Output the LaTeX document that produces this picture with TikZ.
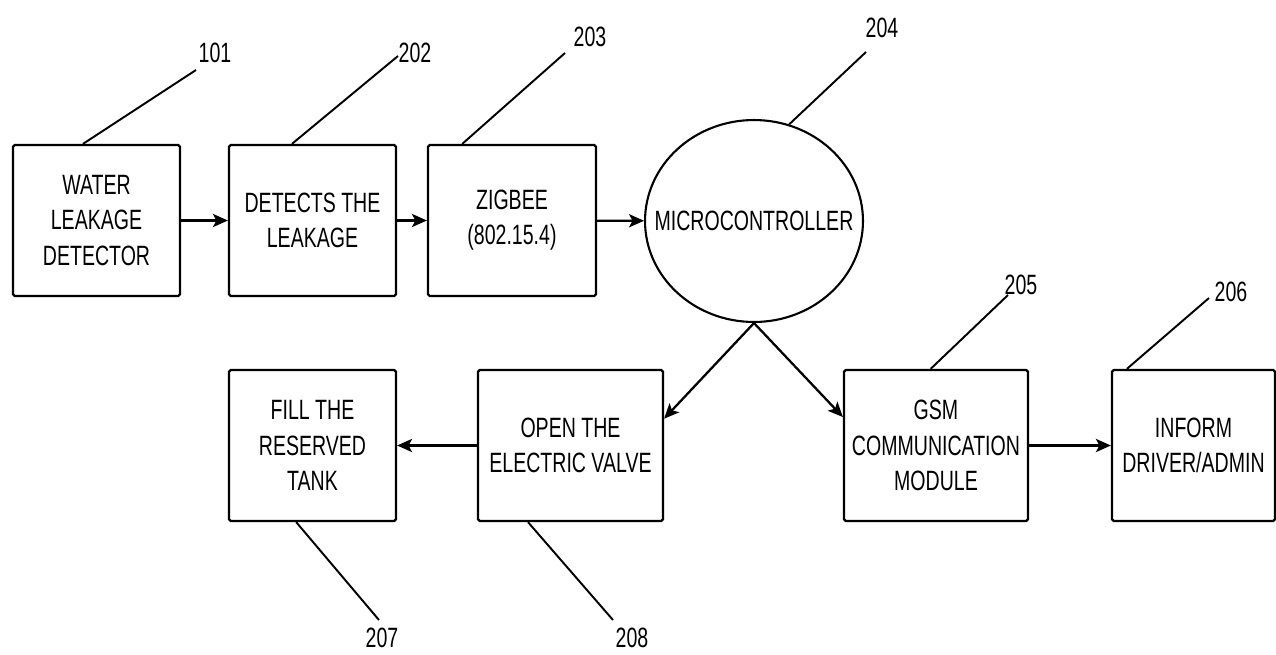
\documentclass[tikz,border=0pt]{standalone}
\usepackage{fontspec}
\setmainfont{Liberation Sans}[FakeStretch=0.70]
\usetikzlibrary{arrows.meta,shapes.geometric}
\begin{document}
\begin{tikzpicture}[x=0.02cm,y=-0.02cm,
  txt/.style={font=\fontsize{15.9}{20}\selectfont},
  box/.style={txt, draw, line width=1.3pt, rounded corners=1pt, minimum height=3.02cm, align=center, inner sep=0pt},
  ell/.style={txt, draw, ellipse, line width=1.2pt, minimum width=4.36cm, minimum height=4.04cm, inner sep=0pt},
  num/.style={txt, inner sep=0pt},
  leader/.style={line width=1.1pt},
  arr/.style={line width=1.3pt, -{Stealth[length=8.5pt,width=7.5pt,inset=2pt]}}]
\useasboundingbox (0,0) rectangle (1276,654);
% boxes
\node[box, minimum width=3.34cm] (b101) at (96.5,220.5) {WATER\\LEAKAGE\\DETECTOR};
\node[box, minimum width=3.34cm] (b202) at (312.5,220.5) {DETECTS THE\\LEAKAGE};
\node[box, minimum width=3.36cm] (b203) at (512,220.5) {ZIGBEE\\(802.15.4)};
\node[ell] (mc) at (754,221) {\makebox[0pt]{MICROCONTROLLER}};
\node[box, minimum width=3.34cm] (b207) at (312.5,445.5) {FILL THE\\RESERVED\\TANK};
\node[box, minimum width=3.70cm] (b208) at (570.5,445.5) {OPEN THE\\ELECTRIC VALVE};
\node[box, minimum width=3.68cm] (b205) at (936,445.5) {GSM\\COMMUNICATION\\MODULE};
\node[box, minimum width=3.26cm] (b206) at (1193.5,445.5) {INFORM\\DRIVER/ADMIN};
% arrows
\draw[arr] (b101) -- (b202);
\draw[arr] (b202) -- (b203);
\draw[arr] (b203) -- (mc);
\draw[arr] (mc.south) -- (b208.16.6);
\draw[arr] (mc.south) -- (b205.163.4);
\draw[arr] (b208) -- (b207);
\draw[arr] (b205) -- (b206);
% reference numbers
\coordinate (l101) at (196,70);
\coordinate (l202) at (398,56);
\coordinate (l203) at (565,53);
\coordinate (l204) at (866,52);
\coordinate (l205) at (1008,295);
\coordinate (l206) at (1209,298);
\coordinate (l207) at (379,620);
\coordinate (l208) at (613,620);
\node[num] (n101) at (215,53) {101};
\node[num] (n202) at (415,53) {202};
\node[num] (n203) at (590,37) {203};
\node[num] (n204) at (882,28) {204};
\node[num] (n205) at (1021,285) {205};
\node[num] (n206) at (1231,292) {206};
\node[num] (n207) at (382,638) {207};
\node[num] (n208) at (632,638) {208};
\draw[leader] (b101.100.9) -- (l101);
\draw[leader] (b202.105.2) -- (l202);
\draw[leader] (b203.123.5) -- (l203);
\draw[leader] (mc.70.5) -- (l204);
\draw[leader] (b205.94.6) -- (l205);
\draw[leader] (b206.131.3) -- (l206);
\draw[leader] (b207.258.4) -- (l207);
\draw[leader] (b208.241.8) -- (l208);
\end{tikzpicture}
\end{document}
